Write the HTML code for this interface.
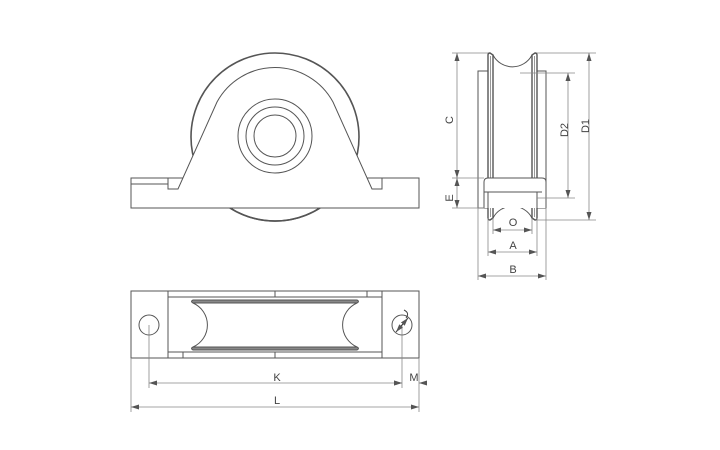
<!DOCTYPE html>
<html><head><meta charset="utf-8"><style>
html,body{margin:0;padding:0;background:#fff}
svg{display:block}
text{font-family:"Liberation Sans",sans-serif;font-size:11px;fill:#444}
</style></head><body>
<svg width="720" height="450" viewBox="0 0 720 450" xmlns="http://www.w3.org/2000/svg">
<defs>
<marker id="a" markerWidth="8" markerHeight="6" refX="8" refY="3" orient="auto-start-reverse" markerUnits="userSpaceOnUse"><path d="M0,0.5 L8,3 L0,5.5 z" fill="#555"/></marker>
</defs>
<g fill="none" stroke="#555" stroke-width="1">
<!-- FRONT VIEW -->
<circle cx="275" cy="137" r="84" stroke-width="1.6"/>
<rect x="131" y="178" width="288" height="30" fill="#fff"/>
<path d="M131,178 H168 V189 H178 L217,102 A66,66 0 0 1 333,102 L372,189 H382 V178 H419 V208 H131 Z" fill="#fff"/>
<line x1="131" y1="184" x2="168" y2="184"/>
<path d="M230,208 A84,84 0 0 0 320,208" stroke-width="1.6"/>
<circle cx="275" cy="136" r="37"/>
<circle cx="275" cy="136" r="29"/>
<circle cx="275" cy="136" r="21"/>
<!-- SIDE VIEW -->
<rect x="478" y="71" width="10" height="137" fill="#fff"/>
<rect x="537" y="71" width="9" height="137" fill="#fff"/>
<path d="M488,55 Q488,53 490,53 L493,55 L493,218 L490,220 Q488,220 488,218 Z" stroke-width="1.4"/>
<path d="M537,55 Q537,53 535,53 L532,55 L532,218 L535,220 Q537,220 537,218 Z" stroke-width="1.4"/>
<line x1="490.5" y1="56" x2="490.5" y2="217" stroke="#999"/>
<line x1="534.5" y1="56" x2="534.5" y2="217" stroke="#999"/>
<path d="M493,55 A22,22 0 0 0 532,55"/>
<path d="M493,218 A22,22 0 0 1 532,218"/>
<path d="M484,208 V182 Q484,178 488,178 H542 Q546,178 546,182 V208" fill="#fff"/>
<line x1="484" y1="192" x2="542" y2="192"/>
<path d="M488,192 V208 M537,192 V208"/>
<!-- side dims -->
<g stroke="#888" stroke-width="0.8">
<line x1="452" y1="53" x2="488" y2="53"/>
<line x1="452" y1="178" x2="484" y2="178"/>
<line x1="452" y1="208" x2="484" y2="208"/>
<line x1="537" y1="53" x2="596" y2="53"/>
<line x1="537" y1="220" x2="596" y2="220"/>
<line x1="520" y1="73" x2="575" y2="73"/>
<line x1="537" y1="198" x2="575" y2="198"/>
<line x1="493" y1="218" x2="493" y2="234"/>
<line x1="532" y1="218" x2="532" y2="234"/>
<line x1="488" y1="218" x2="488" y2="256"/>
<line x1="537" y1="218" x2="537" y2="256"/>
<line x1="478" y1="208" x2="478" y2="280"/>
<line x1="546" y1="208" x2="546" y2="280"/>
<line x1="457" y1="53" x2="457" y2="178" marker-start="url(#a)" marker-end="url(#a)"/>
<line x1="457" y1="178" x2="457" y2="208" marker-start="url(#a)" marker-end="url(#a)"/>
<line x1="568" y1="73" x2="568" y2="198" marker-start="url(#a)" marker-end="url(#a)"/>
<line x1="589" y1="53" x2="589" y2="220" marker-start="url(#a)" marker-end="url(#a)"/>
<line x1="493" y1="230" x2="532" y2="230" marker-start="url(#a)" marker-end="url(#a)"/>
<line x1="488" y1="252" x2="537" y2="252" marker-start="url(#a)" marker-end="url(#a)"/>
<line x1="478" y1="276" x2="546" y2="276" marker-start="url(#a)" marker-end="url(#a)"/>
</g>
<!-- TOP VIEW -->
<rect x="131" y="291" width="288" height="67"/>
<line x1="168" y1="291" x2="168" y2="358"/>
<line x1="382" y1="291" x2="382" y2="358"/>
<line x1="168" y1="297" x2="382" y2="297"/>
<line x1="168" y1="352" x2="382" y2="352"/>
<line x1="275" y1="291" x2="275" y2="297"/>
<line x1="275" y1="352" x2="275" y2="358"/>
<line x1="367" y1="291" x2="367" y2="297"/>
<line x1="183" y1="352" x2="183" y2="358"/>
<path d="M193,300 H357 Q360,301.5 357,303 H193 Q190,301.5 193,300 Z" fill="#888"/>
<path d="M193,347 H357 Q360,348.5 357,350 H193 Q190,348.5 193,347 Z" fill="#888"/>
<path d="M193,303 A24,24 0 0 1 193,347"/>
<path d="M357,303 A24,24 0 0 0 357,347"/>
<circle cx="149" cy="325" r="10"/>
<circle cx="402" cy="325" r="10"/>
<g stroke="#888" stroke-width="0.8">
<line x1="149" y1="325" x2="149" y2="388"/>
<line x1="402" y1="325" x2="402" y2="388"/>
<line x1="419" y1="358" x2="419" y2="412"/>
<line x1="131" y1="358" x2="131" y2="412"/>
<line x1="149" y1="383" x2="402" y2="383" marker-start="url(#a)" marker-end="url(#a)"/>
<line x1="394" y1="383" x2="402" y2="383" marker-end="url(#a)"/>
<line x1="427" y1="383" x2="419" y2="383" marker-end="url(#a)"/>
<line x1="131" y1="407" x2="419" y2="407" marker-start="url(#a)" marker-end="url(#a)"/>
</g>
<line x1="396" y1="332" x2="408" y2="318" stroke="#333" marker-start="url(#a)" marker-end="url(#a)"/>
<path d="M404,310 Q410,313 406,318" stroke="#444"/>
</g>
<text x="449" y="116" transform="rotate(-90 453 116)" text-anchor="middle">C</text>
<text x="449" y="194" transform="rotate(-90 453 194)" text-anchor="middle">E</text>
<text x="568" y="138" transform="rotate(-90 564 134)" text-anchor="middle">D2</text>
<text x="589" y="134" transform="rotate(-90 585 130)" text-anchor="middle">D1</text>
<text x="513" y="226" text-anchor="middle">O</text>
<text x="513" y="249" text-anchor="middle">A</text>
<text x="513" y="273" text-anchor="middle">B</text>
<text x="277" y="381" text-anchor="middle">K</text>
<text x="414" y="381" text-anchor="middle">M</text>
<text x="277" y="404" text-anchor="middle">L</text>
</svg>
</body></html>
